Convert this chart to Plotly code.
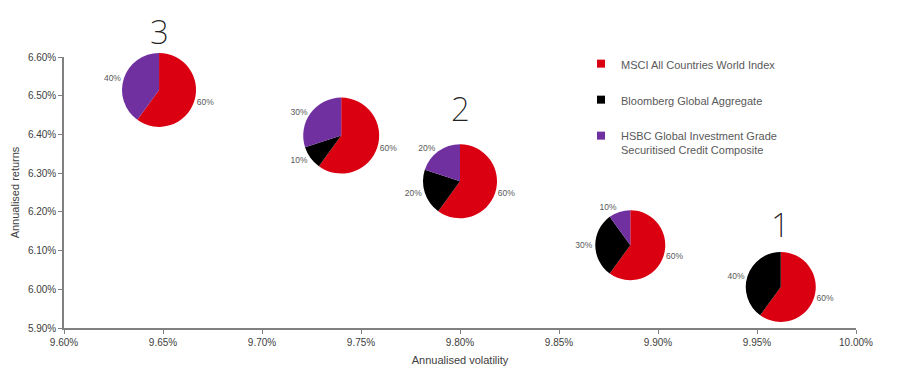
import plotly.graph_objects as go

# ---------------- data ----------------
portfolio_names = ["3", "", "2", "", "1"]
volatility = [9.648, 9.740, 9.800, 9.886, 9.962]      # Annualised volatility (%)
returns = [6.515, 6.397, 6.279, 6.114, 6.006]         # Annualised returns (%)
asset_names = ["MSCI All Countries World Index",
               "Bloomberg Global Aggregate",
               "HSBC Global Investment Grade Securitised Credit Composite"]
msci_weights = [60, 60, 60, 60, 60]
bloomberg_weights = [0, 10, 20, 30, 40]
hsbc_weights = [40, 30, 20, 10, 0]
x_range = [9.60, 10.00]
y_range = [5.90, 6.60]

# ---------------- styling / layout ----------------
# page body has an 8px default margin; figure is sized to fill the rest
W, H = 894, 367
margin = dict(l=56, r=46, t=0, b=47)
plot_top = 49                      # figure-pixel y of top of axes area
colors = ["#DB0011", "#000000", "#7030A0"]
legend_labels = ["MSCI All Countries World Index",
                 "Bloomberg Global Aggregate",
                 "HSBC Global Investment Grade<br>Securitised Credit Composite"]
pie_radius_px = [37, 38, 37, 35, 35]
label_gap_px = [6, 0, 20, 0, 12]

paper_w = W - margin["l"] - margin["r"]
paper_h = H - margin["t"] - margin["b"]
ydom_top = 1 - (plot_top - margin["t"]) / paper_h

fig = go.Figure()

weights = [msci_weights, bloomberg_weights, hsbc_weights]
for i in range(len(volatility)):
    fx = (volatility[i] - x_range[0]) / (x_range[1] - x_range[0])
    fy = (returns[i] - y_range[0]) / (y_range[1] - y_range[0]) * ydom_top
    rx = pie_radius_px[i] / paper_w
    ry = pie_radius_px[i] / paper_h
    labs, vals, cols = [], [], []
    for k in range(3):
        if weights[k][i] > 0:
            labs.append(asset_names[k])
            vals.append(weights[k][i])
            cols.append(colors[k])
    fig.add_trace(go.Pie(
        labels=labs, values=vals, sort=False, direction="clockwise", rotation=0,
        marker=dict(colors=cols, line=dict(width=0)),
        textinfo="percent", textposition="outside",
        texttemplate="%{percent:.0%}",
        textfont=dict(size=8.5, color="#595959", family="Liberation Sans, Arial"),
        domain=dict(x=[fx - rx, fx + rx], y=[fy - ry, fy + ry]),
        showlegend=False, hoverinfo="label+percent",
    ))
    if portfolio_names[i]:
        fig.add_annotation(
            x=volatility[i], y=returns[i], xref="x", yref="y",
            text=portfolio_names[i], showarrow=False,
            yanchor="bottom", yshift=pie_radius_px[i] + label_gap_px[i] - 9,
            font=dict(size=33, color="#222222",
                      family="Noto Sans, Liberation Sans, Arial", weight=200),
        )

# legend entries (dummy scatter traces)
for k in range(3):
    fig.add_trace(go.Scatter(
        x=[None], y=[None], mode="markers", name=legend_labels[k],
        legendgroup=str(k),
        marker=dict(symbol="square", size=8, color=colors[k]),
    ))

fig.update_layout(
    width=W, height=H, margin=margin,
    paper_bgcolor="white", plot_bgcolor="white",
    font=dict(family="Liberation Sans, Arial", size=10, color="#404040"),
    legend=dict(x=(573 - margin["l"]) / paper_w, xanchor="left",
                y=1 - (42 - margin["t"]) / paper_h, yanchor="top",
                tracegroupgap=17, valign="top",
                font=dict(size=11, color="#595959"),
                bgcolor="rgba(0,0,0,0)"),
    xaxis=dict(range=x_range, dtick=0.05, tick0=9.6, tickformat=".2f", ticksuffix="%",
               automargin=False,
               showgrid=False, zeroline=False, showline=True, linecolor="#808080",
               linewidth=1.5, ticks="outside", ticklen=4, tickcolor="#808080",
               title=dict(text="Annualised volatility", font=dict(size=11, color="#404040"),
                          standoff=10)),
    yaxis=dict(range=y_range, dtick=0.1, tick0=5.9, tickformat=".2f", ticksuffix="%",
               domain=[0, ydom_top], automargin=False,
               showgrid=False, zeroline=False, showline=True, linecolor="#808080",
               linewidth=1.5, ticks="outside", ticklen=4, tickcolor="#808080",
               title=dict(text="Annualised returns", font=dict(size=11, color="#404040"),
                          standoff=6)),
)

fig.write_html("out.html")
